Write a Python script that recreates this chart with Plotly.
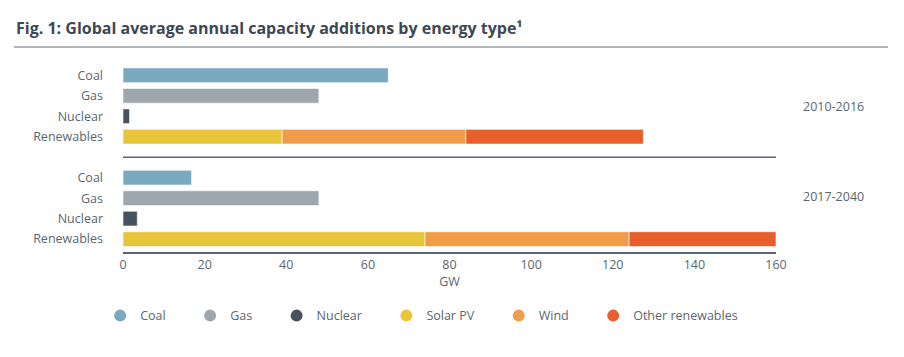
import plotly.graph_objects as go

categories = ["Coal", "Gas", "Nuclear", "Renewables"]
periods = ["2010-2016", "2017-2040"]
coal = [65, 16.8]
gas = [48, 48]
nuclear = [1.6, 3.5]
solar_pv = [39, 74]
wind = [45, 50]
other_renewables = [43.5, 36]
x_ticks = [0, 20, 40, 60, 80, 100, 120, 140, 160]

colors = {
    "Coal": "#7aaac0",
    "Gas": "#9ea7ad",
    "Nuclear": "#46525d",
    "Solar PV": "#e9c53c",
    "Wind": "#f09d49",
    "Other renewables": "#e65f2d",
}

# row positions: period block offset of 5 rows
pos = {p: [i * 5 + k for k in range(4)] for i, p in enumerate(periods)}

fig = go.Figure()
line = dict(color="white", width=0.6)
bw = 0.72
for i, p in enumerate(periods):
    ys = pos[p]
    fig.add_trace(go.Bar(x=[coal[i]], y=[ys[0]], orientation="h", width=bw,
                         marker=dict(color=colors["Coal"], line=line), showlegend=False))
    fig.add_trace(go.Bar(x=[gas[i]], y=[ys[1]], orientation="h", width=bw,
                         marker=dict(color=colors["Gas"], line=line), showlegend=False))
    fig.add_trace(go.Bar(x=[nuclear[i]], y=[ys[2]], orientation="h", width=bw,
                         marker=dict(color=colors["Nuclear"], line=line), showlegend=False))
    fig.add_trace(go.Bar(x=[solar_pv[i]], y=[ys[3]], orientation="h", width=bw,
                         marker=dict(color=colors["Solar PV"], line=line), showlegend=False))
    fig.add_trace(go.Bar(x=[wind[i]], y=[ys[3]], base=[solar_pv[i]], orientation="h", width=bw,
                         marker=dict(color=colors["Wind"], line=line), showlegend=False))
    fig.add_trace(go.Bar(x=[other_renewables[i]], y=[ys[3]], base=[solar_pv[i] + wind[i]],
                         orientation="h", width=bw,
                         marker=dict(color=colors["Other renewables"], line=line), showlegend=False))

pad = "\u00a0" * 6
for name, c in colors.items():
    fig.add_trace(go.Scatter(x=[None], y=[None], mode="markers", name=name + pad,
                             marker=dict(symbol="circle", size=11, color=c)))

tickvals = pos[periods[0]] + pos[periods[1]]
ticktext = categories + categories

font_color = "#5b6670"
fig.update_layout(
    width=896, height=349,
    margin=dict(l=115, r=128, t=55, b=105),
    paper_bgcolor="white", plot_bgcolor="white",
    font=dict(family="Open Sans, Noto Sans, sans-serif", size=12.5, color=font_color),
    barmode="overlay",
    showlegend=True,
    legend=dict(orientation="h", x=-0.035, xanchor="left", y=-0.3386, yanchor="middle",
                font=dict(size=12.5, color=font_color), itemsizing="constant"),
    xaxis=dict(range=[0, 160], tickvals=x_ticks, showgrid=False, zeroline=False,
               showline=True, linecolor="#5b6670", linewidth=1.5, ticks="",
               title=dict(text="GW", standoff=2, font=dict(size=12.5, color=font_color)),
               fixedrange=True),
    yaxis=dict(range=[8.63, -0.6], tickvals=tickvals, ticktext=ticktext, showgrid=False,
               zeroline=False, showline=False, ticks="", ticklabelstandoff=19,
               fixedrange=True),
)

# separator line between the two periods
fig.add_shape(type="line", xref="x", yref="y", x0=0, x1=160, y0=4, y1=4,
              line=dict(color="#5b6670", width=1.5))

# title underline
fig.add_shape(type="line", xref="paper", yref="paper", x0=-0.1669, x1=1.1715,
              y0=1.0847, y1=1.0847, line=dict(color="#959ca2", width=1.5))

fig.add_annotation(xref="paper", yref="paper", x=-0.1669, y=1.185, xanchor="left",
                   yanchor="middle", showarrow=False,
                   text="<b>Fig. 1: Global average annual capacity additions by energy type¹</b>",
                   font=dict(size=16, color="#3d4852"))

for p, yv in zip(periods, [1.5, 5.9]):
    fig.add_annotation(xref="paper", yref="y", x=1.0383, y=yv, xanchor="left",
                       yanchor="middle", showarrow=False, text=p,
                       font=dict(size=12.5, color=font_color))

fig.write_html("out.html")
